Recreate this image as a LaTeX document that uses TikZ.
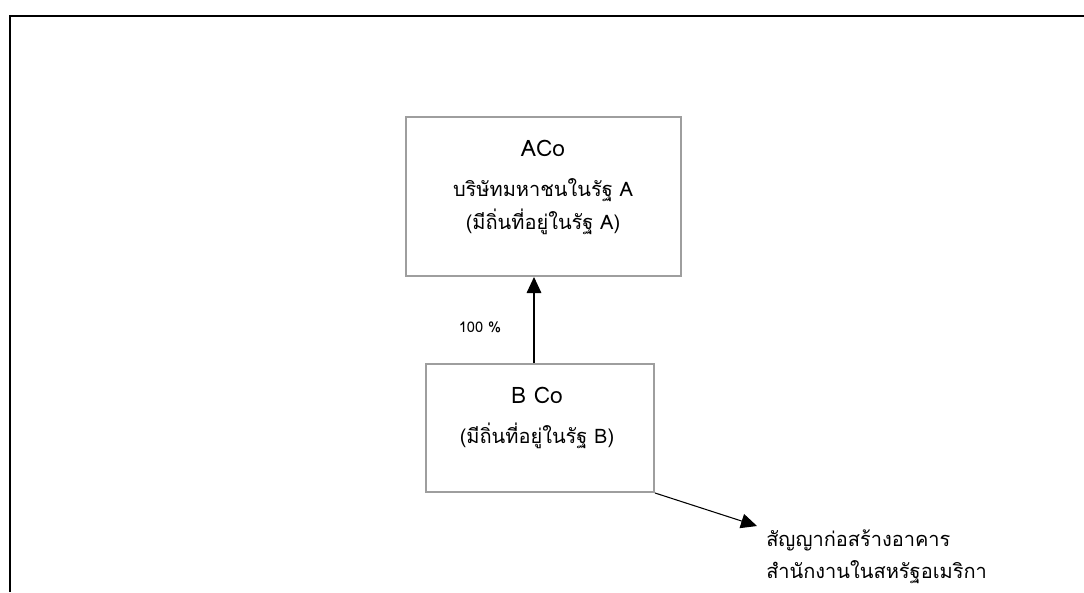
\documentclass[tikz,border=0pt]{standalone}
\usepackage{fontspec}
\usetikzlibrary{arrows.meta}
\setmainfont[Script=Thai]{Loma}
\newfontfamily\thai[Script=Thai]{Loma}
\begin{document}
\begin{tikzpicture}[x=0.75pt,y=-0.75pt,
  entity/.style={draw=black!38, line width=1.5pt, inner sep=0pt},
  title/.style={font=\thai\fontsize{17}{20}\selectfont, inner sep=0pt},
  body/.style={font=\thai\fontsize{15}{18}\selectfont, inner sep=0pt},
  small/.style={font=\thai\fontsize{11}{13}\selectfont, inner sep=0pt},
  link/.style={line width=0.8pt, -{Triangle[length=12pt,width=11pt]}}]
\useasboundingbox (0,0) rectangle (1084,592);
% open frame: top and left rules only
\draw[line width=2.2pt] (10,592) -- (10,16) -- (1084,16);
% parent company
\node[entity, minimum width=275*0.75pt, minimum height=159*0.75pt] (aco) at (543.5,196.5) {};
\node[title] (aconame) at (543,148) {ACo};
\node[body] (acotype) at (543,190) {บริษัทมหาชนในรัฐ A};
\node[body] (acores) at (543,222) {(มีถิ่นที่อยู่ในรัฐ A)};
% subsidiary
\node[entity, minimum width=228*0.75pt, minimum height=128*0.75pt] (bco) at (540,428) {};
\node[title] (bconame) at (537,395) {B Co};
\node[body] (bcores) at (537,436) {(มีถิ่นที่อยู่ในรัฐ B)};
% ownership
\draw[link] (bco.north -| 534,0) -- (aco.south -| 534,0);
\node[small] (share) at (480,327) {100 \%};
% contract
\coordinate (ctip) at (757,526);
\draw[link] (bco.south east) -- (ctip);
\node[body, anchor=west] (contract1) at (766,540) {สัญญาก่อสร้างอาคาร};
\node[body, anchor=west] (contract2) at (766,572) {สำนักงานในสหรัฐอเมริกา};
\end{tikzpicture}
\end{document}
